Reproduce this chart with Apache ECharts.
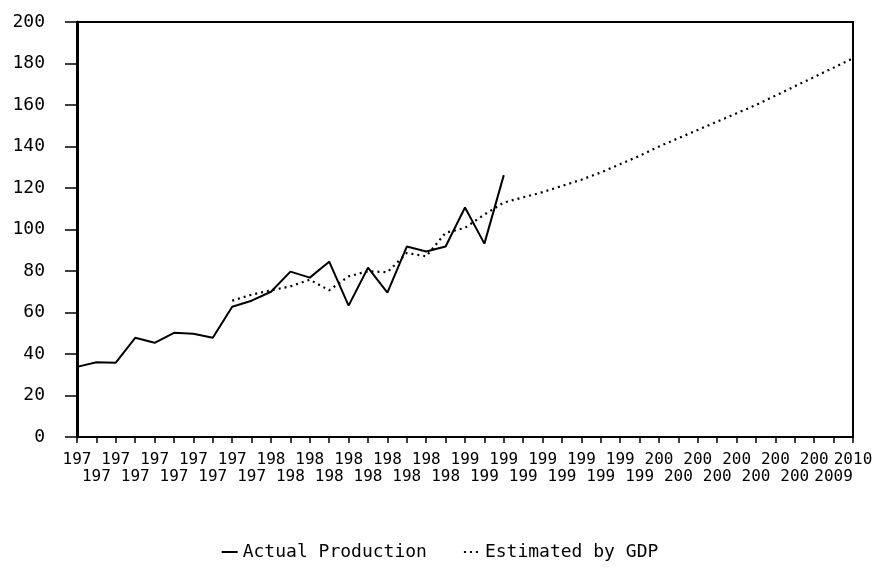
<!DOCTYPE html>
<html>
<head>
<meta charset="utf-8">
<script src="https://cdn.jsdelivr.net/npm/echarts@6/dist/echarts.min.js"></script>
<style>
  html, body { margin: 0; padding: 0; background: #fff; }
  #chart { width: 879px; height: 571px; }
</style>
</head>
<body>
<div id="chart"></div>
<script>
var years = [1970, 1971, 1972, 1973, 1974, 1975, 1976, 1977, 1978, 1979,
             1980, 1981, 1982, 1983, 1984, 1985, 1986, 1987, 1988, 1989,
             1990, 1991, 1992, 1993, 1994, 1995, 1996, 1997, 1998, 1999,
             2000, 2001, 2002, 2003, 2004, 2005, 2006, 2007, 2008, 2009, 2010];

// labels as printed on the original (years cut to 3 chars)
var tickLabels = ['197', '197', '197', '197', '197', '197', '197', '197', '197', '197',
                  '198', '198', '198', '198', '198', '198', '198', '198', '198', '198',
                  '199', '199', '199', '199', '199', '199', '199', '199', '199', '199',
                  '200', '200', '200', '200', '200', '200', '200', '200', '200', '2009', '2010'];

var actual = [33.8, 36, 35.8, 47.8, 45.4, 50.2, 49.8, 47.8, 62.8, 65.7,
              70, 79.7, 76.8, 84.5, 63.3, 81.6, 69.6, 91.8, 89.4, 91.8,
              110.6, 93.2, 126.2];

var estimated = [null, null, null, null, null, null, null, null, 65.7, 68.6,
                 70.7, 72.6, 75.8, 70.7, 77.4, 79.9, 79.4, 88.7, 87.1, 98.4,
                 100.8, 107.2, 113, 115.5, 118, 121, 124, 127.5, 131.5, 135.5,
                 140, 144, 148, 152, 156, 160, 164.5, 169, 173.5, 178, 182.5];

var font = '"DejaVu Sans Mono", monospace';

var chart = echarts.init(document.getElementById('chart'));
chart.setOption({
  animation: false,
  backgroundColor: '#fff',
  grid: {
    left: 77, right: 26, top: 22, bottom: 134,
    show: true, borderColor: '#000', borderWidth: 2
  },
  legend: {
    top: 538,
    left: 'center',
    itemWidth: 16,
    itemHeight: 10,
    itemGap: 36,
    itemStyle: { opacity: 0 },
    textStyle: { fontFamily: font, fontSize: 18, color: '#000' },
    data: ['Actual Production', 'Estimated by GDP']
  },
  xAxis: {
    type: 'category',
    data: years,
    boundaryGap: false,
    axisLine: { lineStyle: { color: '#000', width: 2 } },
    axisTick: { show: true, interval: 0, length: 6, lineStyle: { color: '#000', width: 1.5 } },
    axisLabel: {
      interval: 0,
      margin: 14,
      fontFamily: font,
      fontSize: 16,
      lineHeight: 17,
      color: '#000',
      formatter: function (v, i) {
        return i % 2 ? '\n' + tickLabels[i] : tickLabels[i];
      }
    },
    splitLine: { show: false }
  },
  yAxis: {
    type: 'value',
    min: 0, max: 200, interval: 20,
    axisLine: { show: true, lineStyle: { color: '#000', width: 3 } },
    axisTick: { show: true, length: 12, lineStyle: { color: '#000', width: 1.5 } },
    axisLabel: { margin: 32, fontFamily: font, fontSize: 18, color: '#000' },
    splitLine: { show: false }
  },
  series: [
    {
      name: 'Actual Production',
      type: 'line',
      data: actual,
      symbol: 'none',
      lineStyle: { color: '#000', width: 2 },
      itemStyle: { color: '#000' }
    },
    {
      name: 'Estimated by GDP',
      type: 'line',
      data: estimated,
      symbol: 'none',
      lineStyle: { color: '#000', width: 2.2, type: [2, 4] },
      itemStyle: { color: '#000' }
    }
  ]
});
</script>
</body>
</html>
